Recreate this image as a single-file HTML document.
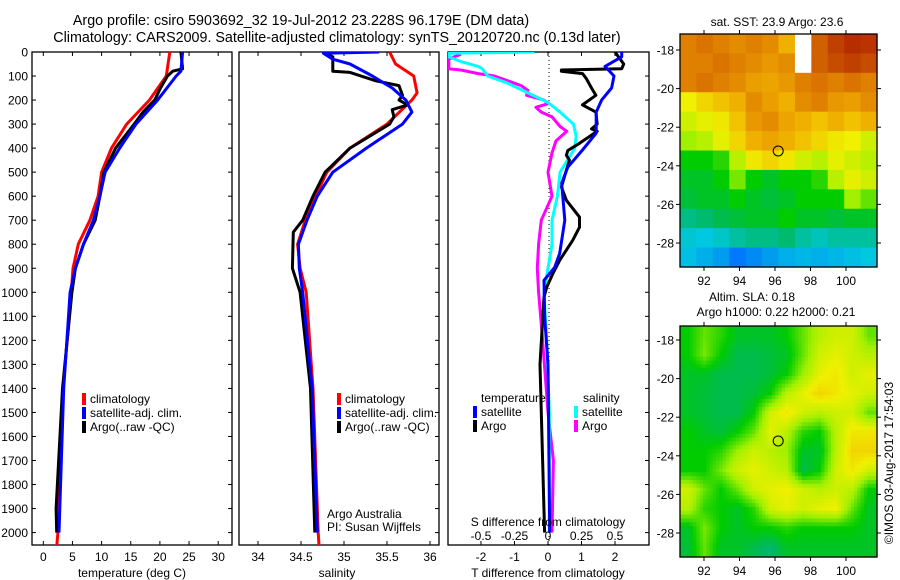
<!DOCTYPE html>
<html><head><meta charset="utf-8">
<style>
html,body{margin:0;padding:0;background:#fff;}
svg{display:block;font-family:"Liberation Sans",sans-serif;}
text{fill:#000;}
</style></head>
<body>
<svg id="fig" width="900" height="580" viewBox="0 0 900 580" xmlns="http://www.w3.org/2000/svg">
<text x="301" y="25" font-size="14.3" text-anchor="middle">Argo profile: csiro 5903692_32 19-Jul-2012 23.228S 96.179E (DM data)</text>
<text x="337" y="42" font-size="14.3" text-anchor="middle">Climatology: CARS2009. Satellite-adjusted climatology: synTS_20120720.nc (0.13d later)</text>
<g id="g1"></g>
<g id="g2"></g>
<g id="g3"></g>
<g id="m1"></g>
<g id="m2"></g>
<text x="777" y="26" font-size="12" text-anchor="middle">sat. SST: 23.9 Argo: 23.6</text>
<text x="752" y="301" font-size="12" text-anchor="middle">Altim. SLA: 0.18</text>
<text x="776" y="316" font-size="12" text-anchor="middle">Argo h1000: 0.22 h2000: 0.21</text>
<text transform="translate(893,463) rotate(-90)" font-size="12" text-anchor="middle">©IMOS 03-Aug-2017 17:54:03</text>
</svg>
<script>
// ---------- data ----------
const depthTicks = [0,100,200,300,400,500,600,700,800,900,1000,1100,1200,1300,1400,1500,1600,1700,1800,1900,2000];
const tempTicks = [0,5,10,15,20,25,30];
const salTicks = [34,34.5,35,35.5,36];
const salTickLabels = ["34","34.5","35","35.5","36"];
const tdiffTicks = [-2,-1,0,1,2];
const sdiffTicks = [-0.5,-0.25,0,0.25,0.5];
const sdiffTickLabels = ["-0.5","-0.25","0","0.25","0.5"];

const tClimDepth = [0,100,200,300,400,500,600,700,800,900,1000,1400,2000,2060];
const tClim = [21.7,21.1,18.2,14.3,11.7,10,9.4,8,6,5.1,4.8,3.4,2.5,2.3];
const tSatDepth = [0,80,100,200,300,400,500,600,700,800,900,1000,1400,2000];
const tSat = [23.9,23.6,22.8,19.6,15.9,13.1,10.6,9.7,8.6,6.9,5.5,4.6,3.5,2.7];
const tArgoDepth = [0,70,80,100,150,200,250,300,400,500,600,700,800,900,1000,1400,1900,2000];
const tArgo = [23.6,23.9,22.2,21.3,20.1,19.1,17.1,15.6,12.4,10.4,9.7,8.9,6.9,5.5,4.9,3.3,2.2,2.3];

const sClimDepth = [0,50,100,170,200,300,400,500,600,700,800,900,1000,1400,2000,2060];
const sClim = [35.53,35.6,35.81,35.85,35.79,35.5,35.07,34.8,34.67,34.55,34.46,34.49,34.56,34.64,34.70,34.71];
const sSatDepth = [0,5,30,50,100,150,200,250,300,400,500,600,700,800,900,1000,1400,2000];
const sSat = [35.41,34.76,34.87,35.07,35.33,35.56,35.72,35.79,35.68,35.26,34.87,34.69,34.57,34.47,34.48,34.52,34.63,34.69];
const sArgoDepth = [0,20,80,85,120,140,180,200,220,240,270,300,400,500,600,700,750,900,1000,1400,2000];
const sArgo = [34.76,34.87,34.87,35.07,35.37,35.64,35.68,35.64,35.74,35.56,35.58,35.53,35.07,34.78,34.64,34.52,34.41,34.4,34.49,34.61,34.66];

const dtSatDepth = [0,20,60,100,150,200,250,338,408,479,546,700,838,896,950,1100,1300,2000];
const dtSat = [2.2,2.2,1.7,1.97,1.9,1.6,1.44,1.44,1.03,0.59,0.41,0.5,0.35,0.2,-0.12,-0.1,0,0.05];
const dtArgoDepth = [0,50,70,75,80,90,110,150,180,220,250,300,320,330,380,410,430,450,562,617,687,729,783,867,921,979,1020,1300,1500,2000];
const dtArgo = [2.0,2.26,2.2,0.4,0.4,1.03,1.14,1.3,1.43,1.03,1.43,1.47,1.3,1.47,0.94,0.59,0.55,0.64,0.4,0.55,0.94,0.94,0.74,0.35,0.15,-0.04,-0.12,-0.24,-0.2,-0.1];
const dsSatDepth = [0,5,20,40,60,70,100,130,170,210,250,300,350,400,500,600,700,800,900,1000,1200,1500,2000];
const dsSat = [-0.10,-0.74,-0.74,-0.65,-0.52,-0.49,-0.45,-0.30,-0.15,0,0.09,0.19,0.21,0.20,0.09,0.07,0.03,0.03,0,-0.03,-0.01,0.01,0.01];
const dsArgoDepth = [10,20,30,70,75,90,100,140,160,180,200,215,230,250,270,310,330,370,420,500,600,700,800,900,1000,1200,1500,1700,2000];
const dsArgo = [-0.65,-0.70,-0.74,-0.74,-0.65,-0.52,-0.40,-0.20,-0.15,-0.16,-0.03,0,-0.09,-0.05,0.03,0.09,0.14,0.06,0.03,0,0.03,-0.05,-0.07,-0.08,-0.07,-0.04,0,0.04,0.03];

const lonTicks = [92,94,96,98,100];
const latTicks = [-18,-20,-22,-24,-26,-28];
const sstGrid = [
[.8,.82,.8,.78,.8,.78,.72,-1,.85,.9,.93,.92],
[.8,.8,.82,.8,.78,.76,.78,-1,.85,.88,.9,.88],
[.8,.82,.8,.78,.75,.74,.76,.8,.82,.8,.82,.8],
[.65,.68,.7,.72,.78,.75,.72,.78,.8,.76,.75,.78],
[.62,.64,.66,.7,.76,.78,.74,.72,.7,.72,.7,.72],
[.58,.6,.64,.68,.72,.74,.72,.7,.68,.66,.65,.62],
[.5,.5,.52,.6,.66,.68,.66,.62,.6,.64,.62,.6],
[.48,.48,.5,.56,.5,.48,.5,.5,.52,.6,.64,.62],
[.47,.48,.48,.5,.48,.47,.48,.5,.5,.5,.58,.55],
[.42,.44,.46,.47,.48,.48,.5,.48,.48,.47,.48,.48],
[.36,.35,.37,.4,.42,.42,.44,.4,.38,.4,.4,.4],
[.34,.32,.3,.26,.28,.3,.32,.33,.32,.33,.34,.35]];
const slaGrid = [
[.5,.55,.52,.48,.48,.48,.5,.55,.6,.62,.62,.55],
[.5,.56,.5,.46,.46,.47,.48,.55,.62,.64,.62,.6],
[.48,.48,.46,.46,.46,.47,.5,.58,.64,.66,.62,.64],
[.48,.47,.46,.46,.47,.5,.6,.64,.68,.66,.64,.62],
[.48,.47,.46,.46,.5,.62,.66,.62,.6,.62,.62,.55],
[.5,.48,.47,.5,.55,.64,.6,.52,.5,.6,.66,.66],
[.5,.5,.52,.58,.62,.6,.58,.48,.48,.6,.68,.68],
[.5,.5,.56,.62,.64,.62,.6,.46,.5,.62,.66,.62],
[.62,.55,.5,.55,.62,.64,.65,.62,.6,.62,.6,.5],
[.6,.52,.5,.48,.52,.62,.64,.62,.64,.65,.55,.48],
[.48,.56,.5,.48,.5,.5,.52,.5,.5,.5,.5,.48],
[.47,.55,.48,.48,.46,.44,.48,.48,.48,.48,.48,.48]];
const argoLon = 96.18, argoLat = -23.23;

// ---------- helpers ----------
const NS = "http://www.w3.org/2000/svg";
function mk(parent, tag, attrs, txt){
  const e = document.createElementNS(NS, tag);
  for (const k in attrs) e.setAttribute(k, attrs[k]);
  if (txt !== undefined) e.textContent = txt;
  parent.appendChild(e); return e;
}
const TOP = 52, BOT = 545;
const yD = d => TOP + d * 0.2403;

function panel(g, id, x0, x1, xScale, xTicks, xLabels, leftLabels){
  const clip = mk(document.getElementById('fig'), 'clipPath', {id:'clip'+id});
  mk(clip, 'rect', {x:x0, y:TOP, width:x1-x0, height:BOT-TOP});
  const frame = mk(g, 'rect', {x:x0, y:TOP, width:x1-x0, height:BOT-TOP, fill:'none', stroke:'#000', 'stroke-width':1.3});
  
  
  xTicks.forEach((t,i)=>{
    const x = xScale(t);
    mk(g,'line',{x1:x,x2:x,y1:BOT,y2:BOT-4,stroke:'#000'});
    mk(g,'line',{x1:x,x2:x,y1:TOP,y2:TOP+4,stroke:'#000'});
    const lbl = mk(g,'text',{x:x,y:BOT+16,'font-size':12,'text-anchor':'middle'}, xLabels[i]);
    
    
  });
  depthTicks.forEach(d=>{
    const y = yD(d);
    mk(g,'line',{x1:x1,x2:x1-4,y1:y,y2:y,stroke:'#000'});
    if (leftLabels){
      mk(g,'line',{x1:x0,x2:x0+4,y1:y,y2:y,stroke:'#000'});
      const lbl = mk(g,'text',{x:x0-4,y:y+4.5,'font-size':12,'text-anchor':'end'}, String(d));
      
      
    }
  });
  return 'url(#clip'+id+')';
}
function series(g, clip, xs, ds, xScale, color, name){
  const pts = xs.map((v,i)=> xScale(v).toFixed(1)+','+yD(ds[i]).toFixed(1)).join(' ');
  const pl = mk(g,'polyline',{points:pts,fill:'none',stroke:color,'stroke-width':3,'clip-path':clip,'stroke-linejoin':'round'});
  
  
}
function legend(g, x, y, color, label, name){
  mk(g,'rect',{x:x-2,y:y-10,width:4,height:12,fill:color});
  const t = mk(g,'text',{x:x+6,y:y,'font-size':12}, label);
  
  
}

// ---------- panel 1 ----------
const g1 = document.getElementById('g1');
const xT = t => 43.3 + t * 5.83;
const c1 = panel(g1, 1, 32, 232, xT, tempTicks, tempTicks.map(String), true);
series(g1,c1,tClim,tClimDepth,xT,'#ff0000','temp-climatology-line');
series(g1,c1,tArgo,tArgoDepth,xT,'#000000','temp-argo-line');
series(g1,c1,tSat,tSatDepth,xT,'#0000ff','temp-satellite-line');
legend(g1,84,403,'#ff0000','climatology','legend-climatology');
legend(g1,84,417,'#0000ff','satellite-adj. clim.','legend-satellite');
legend(g1,84,431,'#000000','Argo(..raw -QC)','legend-argo');
mk(g1,'text',{x:132,y:577,'font-size':12,'text-anchor':'middle'},'temperature (deg C)');

// ---------- panel 2 ----------
const g2 = document.getElementById('g2');
const xS = s => 258 + (s-34) * 86;
const c2 = panel(g2, 2, 239, 439, xS, salTicks, salTickLabels, false);
series(g2,c2,sClim,sClimDepth,xS,'#ff0000','sal-climatology-line');
series(g2,c2,sArgo,sArgoDepth,xS,'#000000','sal-argo-line');
series(g2,c2,sSat,sSatDepth,xS,'#0000ff','sal-satellite-line');
legend(g2,339,403,'#ff0000','climatology','legend2-climatology');
legend(g2,339,417,'#0000ff','satellite-adj. clim.','legend2-satellite');
legend(g2,339,431,'#000000','Argo(..raw -QC)','legend2-argo');
mk(g2,'text',{x:327,y:518,'font-size':12},'Argo Australia');
mk(g2,'text',{x:327,y:531,'font-size':12},'PI: Susan Wijffels');
mk(g2,'text',{x:337,y:577,'font-size':12,'text-anchor':'middle'},'salinity');

// ---------- panel 3 ----------
const g3 = document.getElementById('g3');
const xDT = t => 548 + t * 33.5;
const xDS = s => 548 + s * 134;
const c3 = panel(g3, 3, 448, 649, xDT, tdiffTicks, tdiffTicks.map(String), false);
mk(g3,'line',{x1:549,x2:549,y1:TOP,y2:BOT,stroke:'#000','stroke-dasharray':'1,3','stroke-width':1});
series(g3,c3,dsArgo,dsArgoDepth,xDS,'#ff00ff','sdiff-argo-line');
series(g3,c3,dsSat,dsSatDepth,xDS,'#00ffff','sdiff-satellite-line');
series(g3,c3,dtArgo,dtArgoDepth,xDT,'#000000','tdiff-argo-line');
series(g3,c3,dtSat,dtSatDepth,xDT,'#0000ff','tdiff-satellite-line');
mk(g3,'text',{x:481,y:402,'font-size':12},'temperature');
mk(g3,'text',{x:583,y:402,'font-size':12},'salinity');
legend(g3,475,416,'#0000ff','satellite','legend3-t-satellite');
legend(g3,475,430,'#000000','Argo','legend3-t-argo');
legend(g3,576,416,'#00ffff','satellite','legend3-s-satellite');
legend(g3,576,430,'#ff00ff','Argo','legend3-s-argo');
mk(g3,'text',{x:548,y:526,'font-size':12,'text-anchor':'middle'},'S difference from climatology');
sdiffTicks.forEach((s,i)=>{
  const t = mk(g3,'text',{x:xDS(s),y:540,'font-size':12,'text-anchor':'middle'}, sdiffTickLabels[i]);
  
  
});
mk(g3,'text',{x:548,y:577,'font-size':12,'text-anchor':'middle'},'T difference from climatology');

// ---------- maps ----------
const stops = [[0,[0,0,160]],[0.25,[0,112,255]],[0.35,[0,200,224]],[0.45,[0,184,96]],[0.5,[0,204,0]],[0.58,[160,240,0]],[0.65,[240,240,0]],[0.72,[240,176,0]],[0.8,[224,128,0]],[0.9,[192,64,0]],[1,[160,0,0]]];
function cmap(v){
  if (v < 0) return '#ffffff';
  for (let i=1;i<stops.length;i++){
    if (v <= stops[i][0]){
      const a=stops[i-1], b=stops[i], f=(v-a[0])/(b[0]-a[0]);
      const c=a[1].map((q,k)=>Math.round(q+(b[1][k]-q)*f));
      return 'rgb('+c.join(',')+')';
    }
  }
  return 'rgb(160,0,0)';
}
function sample(grid, fr, fc){
  const rows=grid.length, cols=grid[0].length;
  const r = Math.min(Math.max(fr-0.5,0),rows-1), c = Math.min(Math.max(fc-0.5,0),cols-1);
  const r0=Math.floor(r), c0=Math.floor(c), r1=Math.min(r0+1,rows-1), c1=Math.min(c0+1,cols-1);
  const fy=r-r0, fx=c-c0;
  return grid[r0][c0]*(1-fx)*(1-fy)+grid[r0][c1]*fx*(1-fy)+grid[r1][c0]*(1-fx)*fy+grid[r1][c1]*fx*fy;
}
function drawMap(id, grid, top, bottom, lat18y, lat28y, smooth){
  const g = document.getElementById(id);
  const L=680, R=877;
  const lonX = lon => 704 + (lon-92) * 17.75;
  const latY = lat => lat18y + (-18-lat) * (lat28y-lat18y)/10;
  const rows=grid.length, cols=grid[0].length;
  const sub = smooth ? 5 : 1;
  const cw=(R-L)/(cols*sub), ch=(bottom-top)/(rows*sub);
  for (let r=0;r<rows*sub;r++){
    for (let c=0;c<cols*sub;c++){
      const v = smooth ? sample(grid,(r+0.5)/sub,(c+0.5)/sub) : grid[r][c];
      const cell = mk(g,'rect',{x:L+c*cw,y:top+r*ch,width:cw+0.6,height:ch+0.6,fill:cmap(v)});
      
      
    }
  }
  mk(g,'rect',{x:L,y:top,width:R-L,height:bottom-top,fill:'none',stroke:'#000','stroke-width':1.3});
  lonTicks.forEach(lon=>{
    const x=lonX(lon);
    mk(g,'line',{x1:x,x2:x,y1:bottom,y2:bottom+4,stroke:'#000'});
    mk(g,'line',{x1:x,x2:x,y1:top,y2:top-4,stroke:'#000'});
    mk(g,'text',{x:x,y:bottom+18,'font-size':12,'text-anchor':'middle'},String(lon));
  });
  latTicks.forEach(lat=>{
    const y=latY(lat);
    mk(g,'line',{x1:L,x2:L-4,y1:y,y2:y,stroke:'#000'});
    mk(g,'line',{x1:R,x2:R+4,y1:y,y2:y,stroke:'#000'});
    mk(g,'text',{x:L-6,y:y+4.5,'font-size':12,'text-anchor':'end'},String(lat));
  });
  const m = mk(g,'circle',{cx:lonX(argoLon),cy:latY(argoLat),r:5,fill:'none',stroke:'#000','stroke-width':1});
  
  
}
drawMap('m1', sstGrid, 34, 267, 50, 243, false);
drawMap('m2', slaGrid, 326, 557, 340, 533, true);
</script>
</body></html>
